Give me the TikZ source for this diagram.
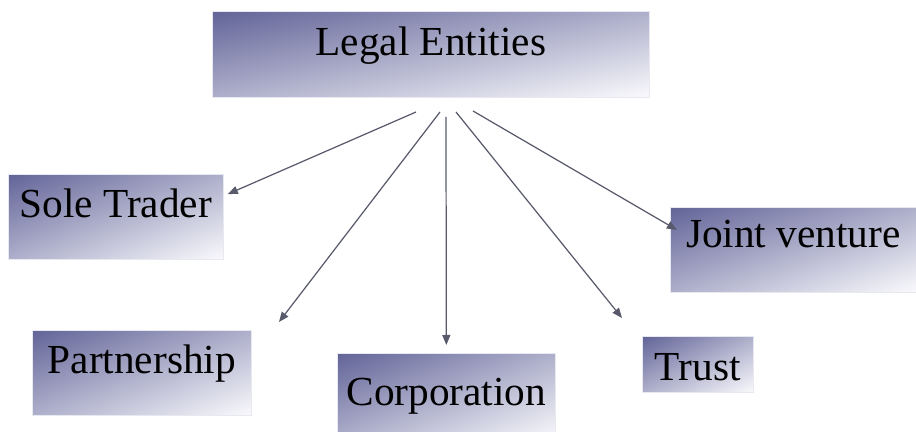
\documentclass[tikz,border=0pt]{standalone}
\usepackage{fontspec}
\setmainfont{Liberation Serif}
\usetikzlibrary{arrows.meta}
\definecolor{arrowgrey}{RGB}{88,90,108}
\definecolor{edgegrey}{RGB}{232,232,240}

% dark slate blue in the top left corner, fading to near white in the bottom right
% (the path is mapped onto the middle square, 25bp to 75bp)
\pgfdeclarefunctionalshading{cornerfade}{\pgfpoint{0bp}{0bp}}{\pgfpoint{100bp}{100bp}}{}{
    neg add 50 add 100 div
    dup 0.596 mul 0.384 add exch
    dup 0.588 mul 0.392 add exch
    0.396 mul 0.596 add
}

\tikzset{
    entity/.style={anchor=north west, inner sep=0, text height=0.7cm,
        shading=cornerfade, shade,
        draw=edgegrey, line width=0.4pt,
        font=\fontsize{23.5}{28}\selectfont},
    link/.style={draw=arrowgrey, line width=0.7pt,
        -{Triangle[length=0.2cm, width=0.16cm]}}
}

\begin{document}
\begin{tikzpicture}
        \useasboundingbox (0,0) rectangle (18.32,-8.64);

        % boxes, placed by their top left corner
        \node[entity, minimum width=8.74cm, minimum height=1.72cm, text depth=0.66cm]
            (legal) at (4.24,-0.22) {Legal Entities};
        \node[entity, minimum width=4.30cm, minimum height=1.70cm, text depth=0.68cm]
            (sole) at (0.16,-3.48) {Sole Trader};
        \node[entity, minimum width=4.92cm, minimum height=1.70cm, text depth=0.80cm]
            (joint) at (13.40,-4.14) {Joint venture};
        \node[entity, minimum width=4.38cm, minimum height=1.70cm, text depth=0.68cm]
            (part) at (0.64,-6.60) {Partnership};
        \node[entity, minimum width=4.36cm, minimum height=1.72cm, text depth=0.34cm]
            (corp) at (6.74,-7.06) {Corporation};
        \node[entity, minimum width=2.22cm, minimum height=1.12cm, text depth=0.06cm]
            (trust) at (12.84,-6.72) {Trust};

        % arrows fan out from just under the top box
        \coordinate (fan1) at (8.32,-2.24);
        \coordinate (fan2) at (8.80,-2.24);
        \coordinate (fan3) at (8.92,-2.34);
        \coordinate (fan4) at (9.12,-2.24);
        \coordinate (fan5) at (9.46,-2.22);
        \coordinate (parttip) at (5.58,-6.44);
        \coordinate (trusttip) at (12.44,-6.36);

        \draw[link, shorten >=0.09cm] (fan1) -- (sole.11);
        \draw[link] (fan2) -- (parttip);
        \draw[link, shorten >=0.16cm] (fan3) -- (corp.north);
        \draw[link] (fan4) -- (trusttip);
        \draw[link, shorten >=-0.16cm] (fan5) -- (joint.169.6);

    \end{tikzpicture}
\end{document}
